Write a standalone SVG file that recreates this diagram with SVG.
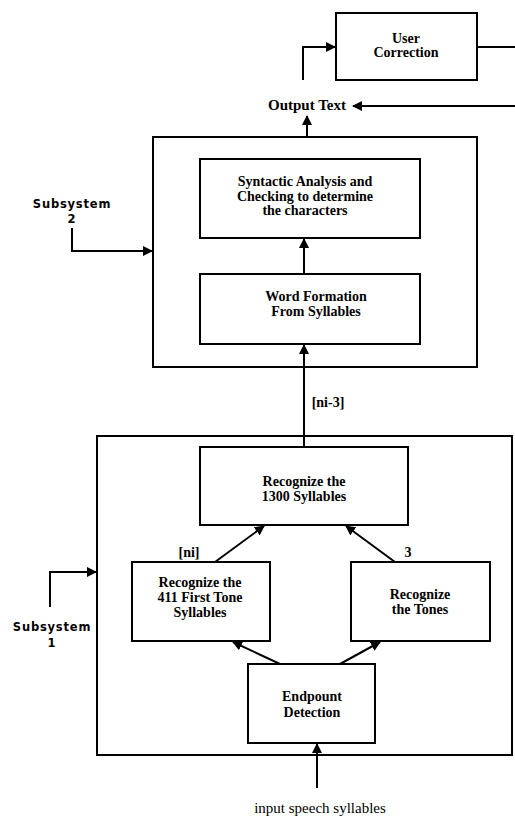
<svg xmlns="http://www.w3.org/2000/svg" width="515" height="818" viewBox="0 0 515 818">
<style>
.box{fill:none;stroke:#000;stroke-width:2}
.ln{fill:none;stroke:#000;stroke-width:2}
text{font-family:"Liberation Serif","Times New Roman",serif;font-size:14px;font-weight:bold;fill:#000;text-anchor:middle}
.sub{font-family:"DejaVu Sans",sans-serif;font-size:11.5px;letter-spacing:0.8px}
.in{font-weight:normal;font-size:15px}
</style>
<defs>
<marker id="ah" viewBox="0 0 10 10" refX="9" refY="5" markerWidth="5" markerHeight="5" orient="auto-start-reverse">
<path d="M0,0 L10,5 L0,10 z" fill="#000"/>
</marker>
</defs>
<g id="user-correction"><rect class="box" x="336" y="13" width="141" height="67"/><text x="406" y="43">User</text><text x="406" y="57">Correction</text></g>
<g id="output-text"><text x="307" y="110" style="font-size:15px">Output Text</text></g>
<g id="subsystem2"><rect class="box" x="153" y="137" width="324" height="230"/></g>
<g id="syntactic"><rect class="box" x="200" y="159" width="220" height="79"/><text x="305" y="186">Syntactic Analysis and</text><text x="305" y="201">Checking to determine</text><text x="305" y="215">the characters</text></g>
<g id="word-formation"><rect class="box" x="200" y="274" width="220" height="70"/><text x="316" y="301">Word Formation</text><text x="316" y="316">From Syllables</text></g>
<g id="subsystem1"><rect class="box" x="97" y="436" width="415" height="319"/></g>
<g id="recognize-1300"><rect class="box" x="200" y="447" width="208" height="78"/><text x="304" y="486">Recognize the</text><text x="304" y="501">1300 Syllables</text></g>
<g id="recognize-411"><rect class="box" x="132" y="562" width="138" height="79"/><text x="200" y="587">Recognize the</text><text x="200" y="602">411 First Tone</text><text x="200" y="617">Syllables</text></g>
<g id="recognize-tones"><rect class="box" x="351" y="562" width="139" height="79"/><text x="420" y="599">Recognize</text><text x="420" y="614">the Tones</text></g>
<g id="endpoint"><rect class="box" x="248" y="664" width="127" height="79"/><text x="312" y="701">Endpount</text><text x="312" y="717">Detection</text></g>
<g id="labels">
<text class="sub" x="72" y="208">Subsystem</text><text class="sub" x="72" y="223">2</text>
<text class="sub" x="52" y="631">Subsystem</text><text class="sub" x="52" y="647">1</text>
<text x="328" y="407">[ni-3]</text>
<text x="189" y="557">[ni]</text>
<text x="408" y="557">3</text>
<text class="in" x="320" y="813">input speech syllables</text>
</g>
<g id="connectors">
<path class="ln" d="M303,80 V47 H335" marker-end="url(#ah)"/>
<path class="ln" d="M477,47 H515"/>
<path class="ln" d="M515,106 H353" marker-end="url(#ah)"/>
<path class="ln" d="M307,137 V116" marker-end="url(#ah)"/>
<path class="ln" d="M304,274 V239" marker-end="url(#ah)"/>
<path class="ln" d="M304,447 V345" marker-end="url(#ah)"/>
<path class="ln" d="M215,562 L264,526" marker-end="url(#ah)"/>
<path class="ln" d="M395,562 L346,526" marker-end="url(#ah)"/>
<path class="ln" d="M280,664 L233,642" marker-end="url(#ah)"/>
<path class="ln" d="M340,664 L380,642" marker-end="url(#ah)"/>
<path class="ln" d="M317,788 V744" marker-end="url(#ah)"/>
<path class="ln" d="M72,228 V251 H152" marker-end="url(#ah)"/>
<path class="ln" d="M50,607 V572 H96" marker-end="url(#ah)"/>
</g>
</svg>
